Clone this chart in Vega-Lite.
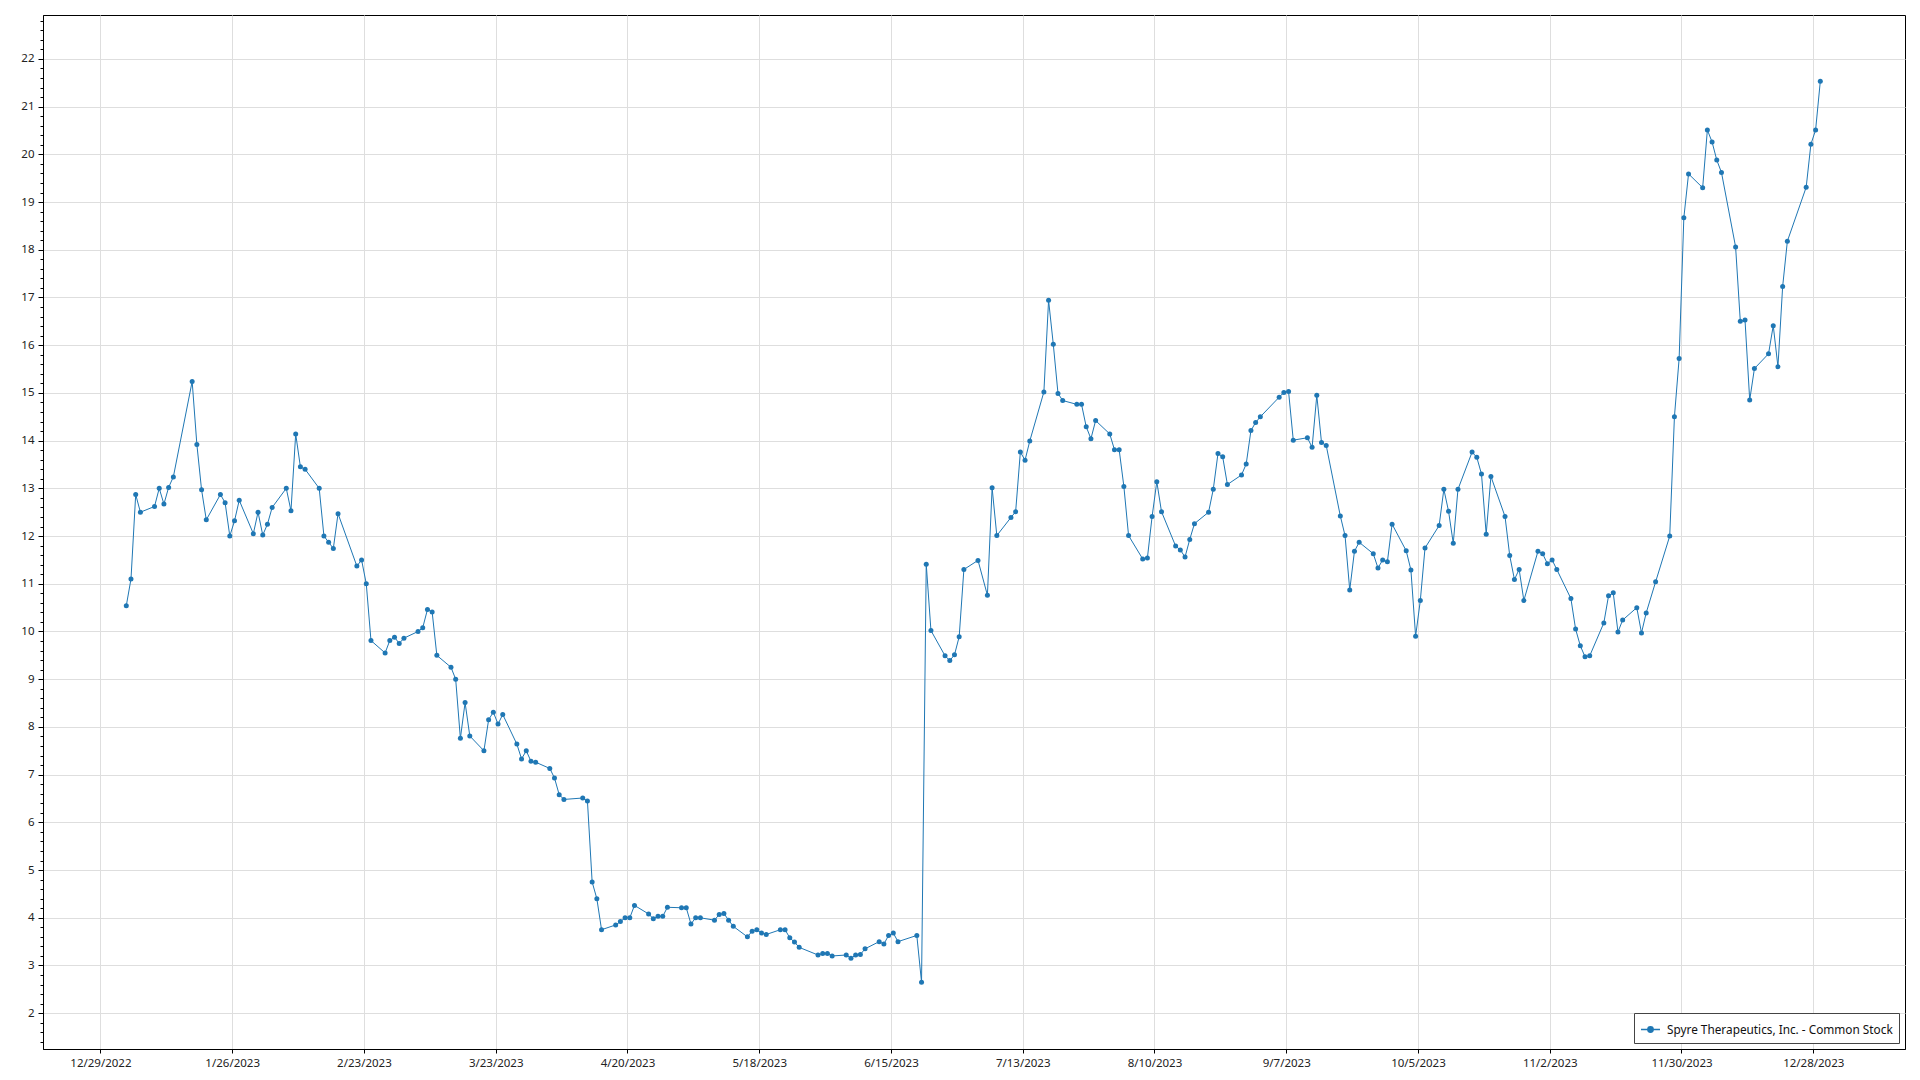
{
  "$schema": "https://vega.github.io/schema/vega-lite/v6.json",
  "width": 1862,
  "height": 1034,
  "autosize": {"type": "none"},
  "padding": {"left": 43, "top": 15, "right": 15, "bottom": 31},
  "background": "white",
  "config": {
    "view": {"stroke": "#000000", "strokeWidth": 1},
    "axis": {
      "labelFont": "Noto Sans",
      "labelFontSize": 11.5,
      "labelColor": "#222222",
      "domainColor": "#000000",
      "domainWidth": 1,
      "tickColor": "#000000",
      "gridColor": "#dedede",
      "gridWidth": 1,
      "title": null
    }
  },
  "data": {
    "values": [
      {"date": "2023-01-03", "close": 10.54}, {"date": "2023-01-04", "close": 11.10}, {"date": "2023-01-05", "close": 12.87}, {"date": "2023-01-06", "close": 12.50},
      {"date": "2023-01-09", "close": 12.62}, {"date": "2023-01-10", "close": 13.00}, {"date": "2023-01-11", "close": 12.67}, {"date": "2023-01-12", "close": 13.02}, {"date": "2023-01-13", "close": 13.24},
      {"date": "2023-01-17", "close": 15.24}, {"date": "2023-01-18", "close": 13.92}, {"date": "2023-01-19", "close": 12.97}, {"date": "2023-01-20", "close": 12.34},
      {"date": "2023-01-23", "close": 12.87}, {"date": "2023-01-24", "close": 12.70}, {"date": "2023-01-25", "close": 12.00}, {"date": "2023-01-26", "close": 12.32}, {"date": "2023-01-27", "close": 12.75},
      {"date": "2023-01-30", "close": 12.05}, {"date": "2023-01-31", "close": 12.50}, {"date": "2023-02-01", "close": 12.02}, {"date": "2023-02-02", "close": 12.25}, {"date": "2023-02-03", "close": 12.60},
      {"date": "2023-02-06", "close": 13.00}, {"date": "2023-02-07", "close": 12.53}, {"date": "2023-02-08", "close": 14.14}, {"date": "2023-02-09", "close": 13.45}, {"date": "2023-02-10", "close": 13.40},
      {"date": "2023-02-13", "close": 13.00}, {"date": "2023-02-14", "close": 12.00}, {"date": "2023-02-15", "close": 11.87}, {"date": "2023-02-16", "close": 11.74}, {"date": "2023-02-17", "close": 12.47},
      {"date": "2023-02-21", "close": 11.37}, {"date": "2023-02-22", "close": 11.50}, {"date": "2023-02-23", "close": 11.00}, {"date": "2023-02-24", "close": 9.81},
      {"date": "2023-02-27", "close": 9.55}, {"date": "2023-02-28", "close": 9.81}, {"date": "2023-03-01", "close": 9.88}, {"date": "2023-03-02", "close": 9.75}, {"date": "2023-03-03", "close": 9.86},
      {"date": "2023-03-06", "close": 10.00}, {"date": "2023-03-07", "close": 10.08}, {"date": "2023-03-08", "close": 10.46}, {"date": "2023-03-09", "close": 10.41}, {"date": "2023-03-10", "close": 9.50},
      {"date": "2023-03-13", "close": 9.25}, {"date": "2023-03-14", "close": 9.00}, {"date": "2023-03-15", "close": 7.76}, {"date": "2023-03-16", "close": 8.51}, {"date": "2023-03-17", "close": 7.81},
      {"date": "2023-03-20", "close": 7.50}, {"date": "2023-03-21", "close": 8.15}, {"date": "2023-03-22", "close": 8.31}, {"date": "2023-03-23", "close": 8.06}, {"date": "2023-03-24", "close": 8.26},
      {"date": "2023-03-27", "close": 7.64}, {"date": "2023-03-28", "close": 7.33}, {"date": "2023-03-29", "close": 7.50}, {"date": "2023-03-30", "close": 7.28}, {"date": "2023-03-31", "close": 7.26},
      {"date": "2023-04-03", "close": 7.13}, {"date": "2023-04-04", "close": 6.93}, {"date": "2023-04-05", "close": 6.58}, {"date": "2023-04-06", "close": 6.48},
      {"date": "2023-04-10", "close": 6.51}, {"date": "2023-04-11", "close": 6.45}, {"date": "2023-04-12", "close": 4.75}, {"date": "2023-04-13", "close": 4.40}, {"date": "2023-04-14", "close": 3.75},
      {"date": "2023-04-17", "close": 3.85}, {"date": "2023-04-18", "close": 3.92}, {"date": "2023-04-19", "close": 4.00}, {"date": "2023-04-20", "close": 4.00}, {"date": "2023-04-21", "close": 4.26},
      {"date": "2023-04-24", "close": 4.08}, {"date": "2023-04-25", "close": 3.98}, {"date": "2023-04-26", "close": 4.03}, {"date": "2023-04-27", "close": 4.03}, {"date": "2023-04-28", "close": 4.22},
      {"date": "2023-05-01", "close": 4.21}, {"date": "2023-05-02", "close": 4.21}, {"date": "2023-05-03", "close": 3.87}, {"date": "2023-05-04", "close": 4.00}, {"date": "2023-05-05", "close": 4.00},
      {"date": "2023-05-08", "close": 3.95}, {"date": "2023-05-09", "close": 4.07}, {"date": "2023-05-10", "close": 4.09}, {"date": "2023-05-11", "close": 3.95}, {"date": "2023-05-12", "close": 3.82},
      {"date": "2023-05-15", "close": 3.60}, {"date": "2023-05-16", "close": 3.72}, {"date": "2023-05-17", "close": 3.75}, {"date": "2023-05-18", "close": 3.68}, {"date": "2023-05-19", "close": 3.65},
      {"date": "2023-05-22", "close": 3.75}, {"date": "2023-05-23", "close": 3.75}, {"date": "2023-05-24", "close": 3.58}, {"date": "2023-05-25", "close": 3.49}, {"date": "2023-05-26", "close": 3.38},
      {"date": "2023-05-30", "close": 3.22}, {"date": "2023-05-31", "close": 3.25}, {"date": "2023-06-01", "close": 3.25}, {"date": "2023-06-02", "close": 3.20},
      {"date": "2023-06-05", "close": 3.22}, {"date": "2023-06-06", "close": 3.15}, {"date": "2023-06-07", "close": 3.22}, {"date": "2023-06-08", "close": 3.23}, {"date": "2023-06-09", "close": 3.35},
      {"date": "2023-06-12", "close": 3.50}, {"date": "2023-06-13", "close": 3.45}, {"date": "2023-06-14", "close": 3.63}, {"date": "2023-06-15", "close": 3.68}, {"date": "2023-06-16", "close": 3.50},
      {"date": "2023-06-20", "close": 3.63}, {"date": "2023-06-21", "close": 2.65}, {"date": "2023-06-22", "close": 11.41}, {"date": "2023-06-23", "close": 10.02},
      {"date": "2023-06-26", "close": 9.49}, {"date": "2023-06-27", "close": 9.39}, {"date": "2023-06-28", "close": 9.51}, {"date": "2023-06-29", "close": 9.89}, {"date": "2023-06-30", "close": 11.30},
      {"date": "2023-07-03", "close": 11.49}, {"date": "2023-07-05", "close": 10.76}, {"date": "2023-07-06", "close": 13.01}, {"date": "2023-07-07", "close": 12.01},
      {"date": "2023-07-10", "close": 12.39}, {"date": "2023-07-11", "close": 12.51}, {"date": "2023-07-12", "close": 13.76}, {"date": "2023-07-13", "close": 13.59}, {"date": "2023-07-14", "close": 13.99},
      {"date": "2023-07-17", "close": 15.02}, {"date": "2023-07-18", "close": 16.94}, {"date": "2023-07-19", "close": 16.02}, {"date": "2023-07-20", "close": 14.99}, {"date": "2023-07-21", "close": 14.84},
      {"date": "2023-07-24", "close": 14.76}, {"date": "2023-07-25", "close": 14.76}, {"date": "2023-07-26", "close": 14.29}, {"date": "2023-07-27", "close": 14.04}, {"date": "2023-07-28", "close": 14.42},
      {"date": "2023-07-31", "close": 14.14}, {"date": "2023-08-01", "close": 13.81}, {"date": "2023-08-02", "close": 13.81}, {"date": "2023-08-03", "close": 13.04}, {"date": "2023-08-04", "close": 12.01},
      {"date": "2023-08-07", "close": 11.52}, {"date": "2023-08-08", "close": 11.54}, {"date": "2023-08-09", "close": 12.41}, {"date": "2023-08-10", "close": 13.14}, {"date": "2023-08-11", "close": 12.51},
      {"date": "2023-08-14", "close": 11.79}, {"date": "2023-08-15", "close": 11.71}, {"date": "2023-08-16", "close": 11.56}, {"date": "2023-08-17", "close": 11.93}, {"date": "2023-08-18", "close": 12.26},
      {"date": "2023-08-21", "close": 12.50}, {"date": "2023-08-22", "close": 12.98}, {"date": "2023-08-23", "close": 13.73}, {"date": "2023-08-24", "close": 13.66}, {"date": "2023-08-25", "close": 13.08},
      {"date": "2023-08-28", "close": 13.28}, {"date": "2023-08-29", "close": 13.51}, {"date": "2023-08-30", "close": 14.21}, {"date": "2023-08-31", "close": 14.38}, {"date": "2023-09-01", "close": 14.50},
      {"date": "2023-09-05", "close": 14.91}, {"date": "2023-09-06", "close": 15.01}, {"date": "2023-09-07", "close": 15.03}, {"date": "2023-09-08", "close": 14.01},
      {"date": "2023-09-11", "close": 14.06}, {"date": "2023-09-12", "close": 13.86}, {"date": "2023-09-13", "close": 14.95}, {"date": "2023-09-14", "close": 13.96}, {"date": "2023-09-15", "close": 13.90},
      {"date": "2023-09-18", "close": 12.42}, {"date": "2023-09-19", "close": 12.01}, {"date": "2023-09-20", "close": 10.87}, {"date": "2023-09-21", "close": 11.68}, {"date": "2023-09-22", "close": 11.87},
      {"date": "2023-09-25", "close": 11.63}, {"date": "2023-09-26", "close": 11.33}, {"date": "2023-09-27", "close": 11.50}, {"date": "2023-09-28", "close": 11.46}, {"date": "2023-09-29", "close": 12.25},
      {"date": "2023-10-02", "close": 11.69}, {"date": "2023-10-03", "close": 11.29}, {"date": "2023-10-04", "close": 9.90}, {"date": "2023-10-05", "close": 10.65}, {"date": "2023-10-06", "close": 11.75},
      {"date": "2023-10-09", "close": 12.22}, {"date": "2023-10-10", "close": 12.98}, {"date": "2023-10-11", "close": 12.52}, {"date": "2023-10-12", "close": 11.85}, {"date": "2023-10-13", "close": 12.98},
      {"date": "2023-10-16", "close": 13.76}, {"date": "2023-10-17", "close": 13.65}, {"date": "2023-10-18", "close": 13.30}, {"date": "2023-10-19", "close": 12.04}, {"date": "2023-10-20", "close": 13.25},
      {"date": "2023-10-23", "close": 12.41}, {"date": "2023-10-24", "close": 11.59}, {"date": "2023-10-25", "close": 11.09}, {"date": "2023-10-26", "close": 11.30}, {"date": "2023-10-27", "close": 10.65},
      {"date": "2023-10-30", "close": 11.68}, {"date": "2023-10-31", "close": 11.63}, {"date": "2023-11-01", "close": 11.42}, {"date": "2023-11-02", "close": 11.50}, {"date": "2023-11-03", "close": 11.30},
      {"date": "2023-11-06", "close": 10.69}, {"date": "2023-11-07", "close": 10.05}, {"date": "2023-11-08", "close": 9.70}, {"date": "2023-11-09", "close": 9.47}, {"date": "2023-11-10", "close": 9.49},
      {"date": "2023-11-13", "close": 10.18}, {"date": "2023-11-14", "close": 10.75}, {"date": "2023-11-15", "close": 10.81}, {"date": "2023-11-16", "close": 9.99}, {"date": "2023-11-17", "close": 10.24},
      {"date": "2023-11-20", "close": 10.50}, {"date": "2023-11-21", "close": 9.97}, {"date": "2023-11-22", "close": 10.39}, {"date": "2023-11-24", "close": 11.04},
      {"date": "2023-11-27", "close": 12.00}, {"date": "2023-11-28", "close": 14.50}, {"date": "2023-11-29", "close": 15.72}, {"date": "2023-11-30", "close": 18.67}, {"date": "2023-12-01", "close": 19.59},
      {"date": "2023-12-04", "close": 19.30}, {"date": "2023-12-05", "close": 20.51}, {"date": "2023-12-06", "close": 20.26}, {"date": "2023-12-07", "close": 19.88}, {"date": "2023-12-08", "close": 19.62},
      {"date": "2023-12-11", "close": 18.06}, {"date": "2023-12-12", "close": 16.50}, {"date": "2023-12-13", "close": 16.53}, {"date": "2023-12-14", "close": 14.85}, {"date": "2023-12-15", "close": 15.51},
      {"date": "2023-12-18", "close": 15.82}, {"date": "2023-12-19", "close": 16.41}, {"date": "2023-12-20", "close": 15.55}, {"date": "2023-12-21", "close": 17.23}, {"date": "2023-12-22", "close": 18.18},
      {"date": "2023-12-26", "close": 19.31}, {"date": "2023-12-27", "close": 20.21}, {"date": "2023-12-28", "close": 20.51}, {"date": "2023-12-29", "close": 21.53}
    ],
    "format": {"parse": {"date": "date:'%Y-%m-%d'"}}
  },
  "encoding": {
    "x": {
      "field": "date",
      "type": "temporal",
      "scale": {"domain": [{"year": 2022, "month": 12, "date": 16, "hours": 7, "minutes": 12}, {"year": 2024, "month": 1, "date": 16}]},
      "axis": {
        "values": [
          {"year": 2022, "month": 12, "date": 28, "hours": 12}, {"year": 2023, "month": 1, "date": 25, "hours": 12}, {"year": 2023, "month": 2, "date": 22, "hours": 12}, {"year": 2023, "month": 3, "date": 22, "hours": 12},
          {"year": 2023, "month": 4, "date": 19, "hours": 12}, {"year": 2023, "month": 5, "date": 17, "hours": 12}, {"year": 2023, "month": 6, "date": 14, "hours": 12}, {"year": 2023, "month": 7, "date": 12, "hours": 12},
          {"year": 2023, "month": 8, "date": 9, "hours": 12}, {"year": 2023, "month": 9, "date": 6, "hours": 12}, {"year": 2023, "month": 10, "date": 4, "hours": 12}, {"year": 2023, "month": 11, "date": 1, "hours": 12},
          {"year": 2023, "month": 11, "date": 29, "hours": 12}, {"year": 2023, "month": 12, "date": 27, "hours": 12}
        ],
        "labelExpr": "timeFormat(toDate(time(datum.value) + 43200000), '%-m/%-d/%Y')",
        "grid": true,
        "tickSize": 4,
        "labelPadding": 4,
        "labelFlush": false,
        "labelOverlap": false
      }
    }
  },
  "layer": [
    {
      "mark": {"type": "line", "strokeWidth": 1, "interpolate": "linear"},
      "encoding": {
        "y": {
          "field": "close",
          "type": "quantitative",
          "scale": {"domain": [1.25, 22.92], "nice": false, "zero": false},
          "axis": {
            "values": [2, 3, 4, 5, 6, 7, 8, 9, 10, 11, 12, 13, 14, 15, 16, 17, 18, 19, 20, 21, 22],
            "grid": true,
            "tickSize": 5,
            "labelPadding": 4,
            "orient": "left"
          }
        },
        "color": {
          "datum": "Spyre Therapeutics, Inc. - Common Stock",
          "scale": {"range": ["#1f77b4"]},
          "legend": {
            "title": null,
            "orient": "bottom-right",
            "offset": 6,
            "fillColor": "#ffffff",
            "strokeColor": "#444444",
            "padding": 6,
            "labelFont": "Noto Sans",
            "labelFontSize": 11.8,
            "labelColor": "#111111",
            "labelLimit": 400,
            "symbolType": "M-1,0H1M-0.28,0A0.28,0.28,0,1,0,0.28,0A0.28,0.28,0,1,0,-0.28,0",
            "symbolSize": 360,
            "symbolStrokeWidth": 1.5,
            "symbolFillColor": "#1f77b4",
            "symbolStrokeColor": "#1f77b4",
            "labelOffset": 6
          }
        }
      }
    },
    {
      "mark": {"type": "point", "filled": true, "size": 25, "opacity": 1},
      "encoding": {
        "y": {"field": "close", "type": "quantitative", "scale": {"domain": [1.25, 22.92], "nice": false, "zero": false}, "axis": null},
        "color": {"datum": "Spyre Therapeutics, Inc. - Common Stock"}
      }
    },
    {
      "mark": {"type": "point", "opacity": 0},
      "encoding": {
        "y": {
          "field": "close",
          "type": "quantitative",
          "scale": {"domain": [1.25, 22.92], "nice": false, "zero": false},
          "axis": {
            "orient": "left",
            "values": [1.4, 1.6, 1.8, 2.2, 2.4, 2.6, 2.8, 3.2, 3.4, 3.6, 3.8, 4.2, 4.4, 4.6, 4.8, 5.2, 5.4, 5.6, 5.8, 6.2, 6.4, 6.6, 6.8, 7.2, 7.4, 7.6, 7.8, 8.2, 8.4, 8.6, 8.8, 9.2, 9.4, 9.6, 9.8, 10.2, 10.4, 10.6, 10.8, 11.2, 11.4, 11.6, 11.8, 12.2, 12.4, 12.6, 12.8, 13.2, 13.4, 13.6, 13.8, 14.2, 14.4, 14.6, 14.8, 15.2, 15.4, 15.6, 15.8, 16.2, 16.4, 16.6, 16.8, 17.2, 17.4, 17.6, 17.8, 18.2, 18.4, 18.6, 18.8, 19.2, 19.4, 19.6, 19.8, 20.2, 20.4, 20.6, 20.8, 21.2, 21.4, 21.6, 21.8, 22.2, 22.4, 22.6, 22.8],
            "labels": false,
            "grid": false,
            "domain": false,
            "tickSize": 3
          }
        }
      }
    }
  ],
  "resolve": {"axis": {"y": "independent"}}
}
